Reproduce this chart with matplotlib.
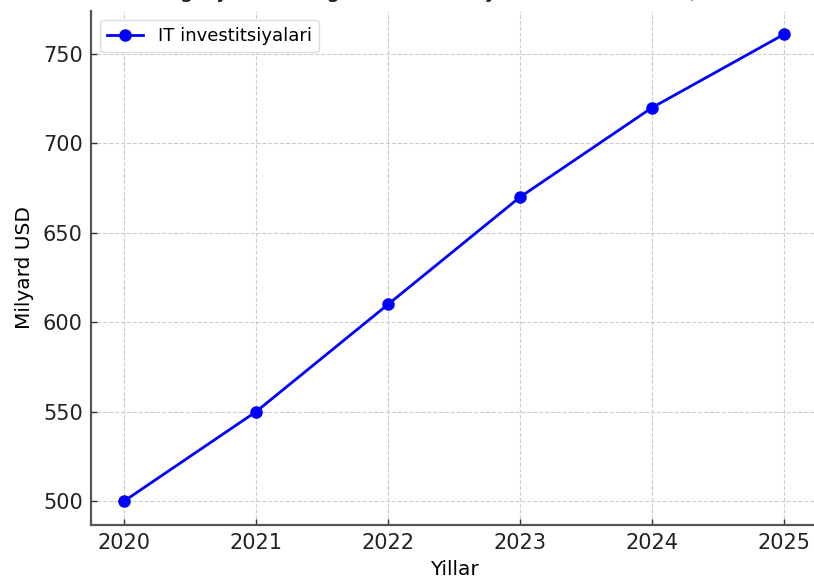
import matplotlib
matplotlib.use("Agg")
import matplotlib.pyplot as plt

years = [2020, 2021, 2022, 2023, 2024, 2025]
investments = [500, 550, 610, 670, 720, 761]
series_label = "IT investitsiyalari"
title_text = "IT sohasiga yo'naltirilgan investitsiyalar dinamikasi (2020-2025)"

plt.rcParams['font.family'] = ['DejaVu Sans']
fig = plt.figure(figsize=(8.14, 5.79), dpi=100)
ax = fig.add_axes([91/814, 1-524.5/579, 726/814, (524.5-11)/579])

ax.plot(years, investments, color='blue', marker='o', linewidth=2, markersize=8,
        label=series_label)
ax.set_xticks(years)
ax.set_xlabel("Yillar", fontsize=14.5, labelpad=5)
ax.set_ylabel("Milyard USD", fontsize=14.5, labelpad=6)
ax.tick_params(axis='both', labelsize=15, direction='in', length=4, width=1,
               color='#333333', labelcolor='#222222')
ax.tick_params(axis='x', pad=6)
ax.tick_params(axis='y', pad=6)
ax.grid(True, linestyle='--', color='#cccccc', linewidth=0.8)
for s in ['top', 'right']:
    ax.spines[s].set_visible(False)
for s in ['left', 'bottom']:
    ax.spines[s].set_color('#555555')
    ax.spines[s].set_linewidth(1.6)
ax.legend(loc='upper left', fontsize=13, frameon=True, framealpha=1,
          edgecolor='#dddddd')

fig.text(454/814, 1 + 2.5/579, title_text, ha='center', va='baseline',
         fontsize=17, color='#222222')

fig.savefig("out.png", dpi=100)
